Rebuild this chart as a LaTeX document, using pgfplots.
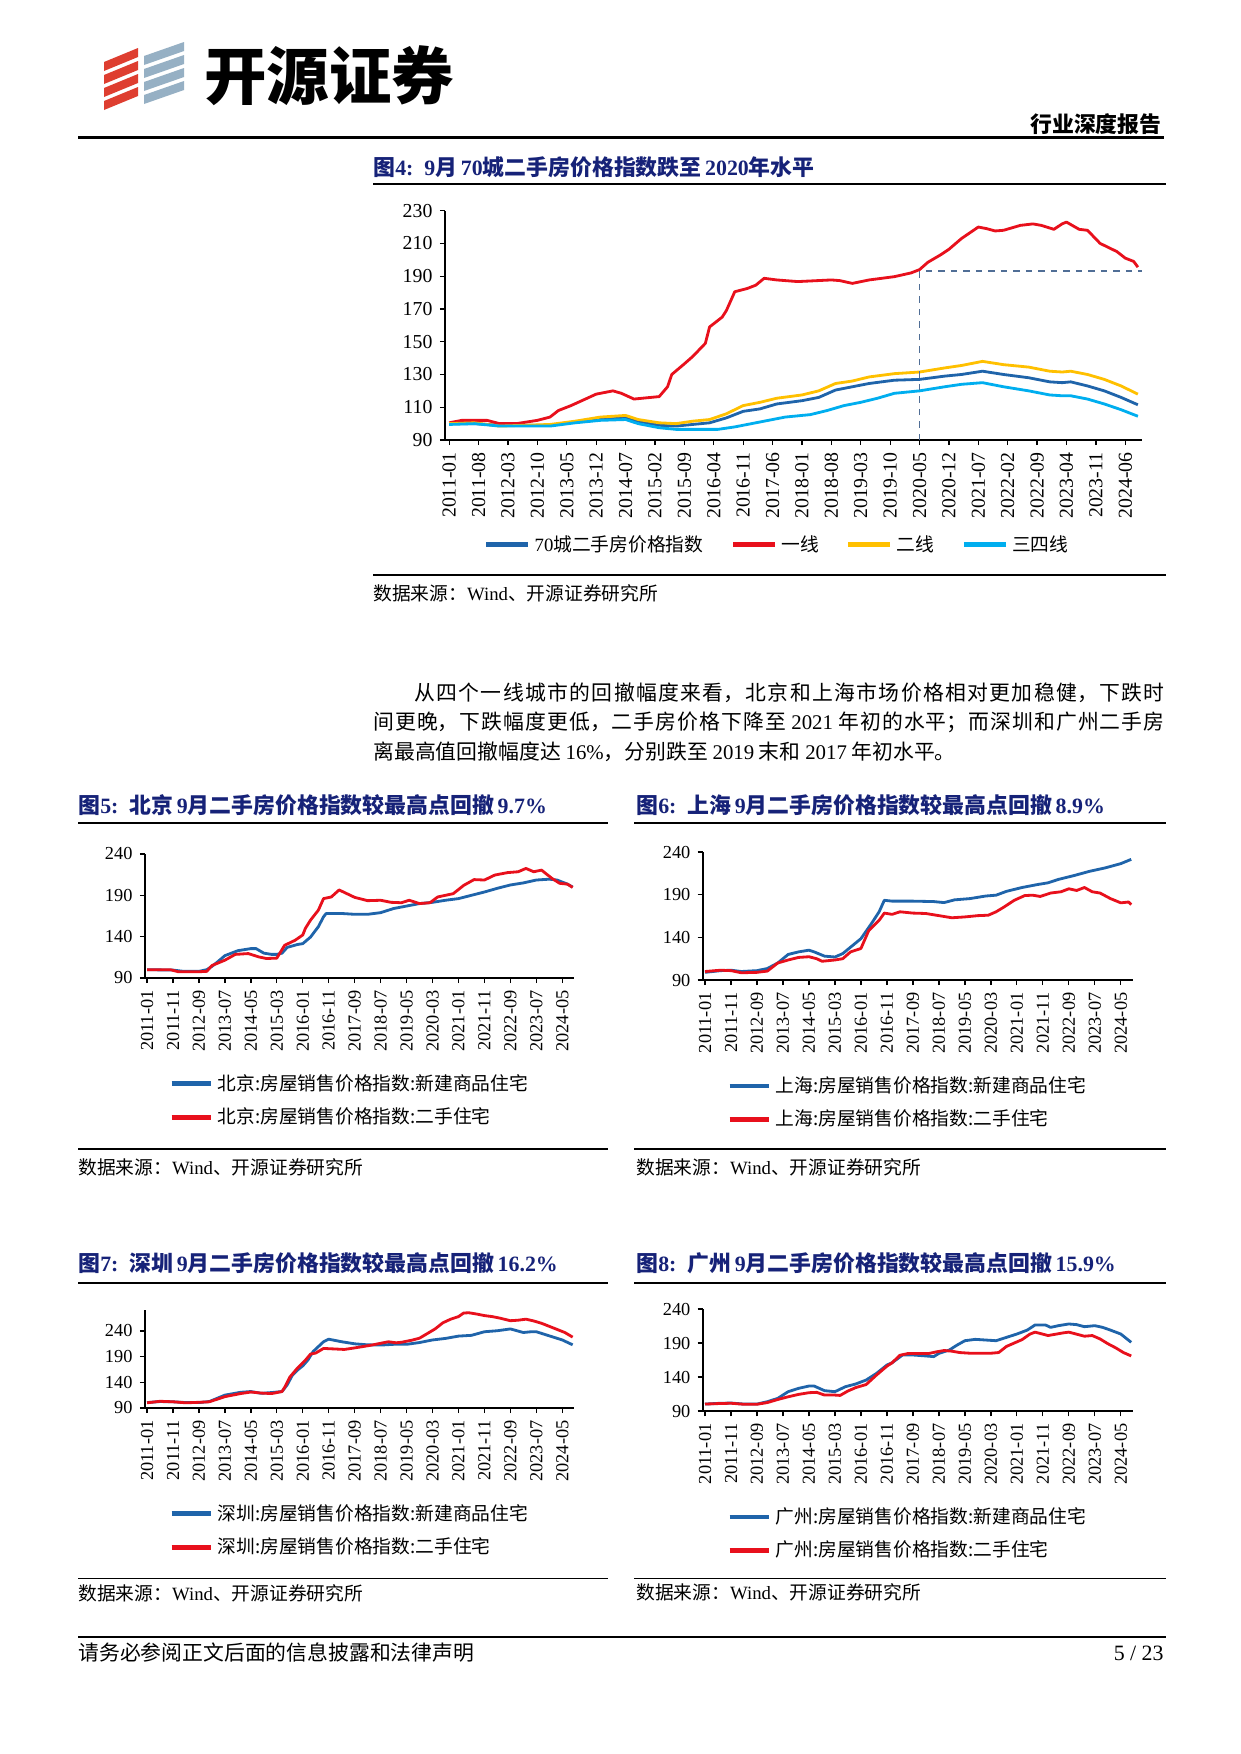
\documentclass[border=0pt]{standalone}
\usepackage{fontspec}
\usepackage{pgfplots}
\pgfplotsset{compat=1.18}
\setmainfont{Liberation Serif}
\newfontfamily\cjk{Noto Sans CJK SC}
\XeTeXlinebreaklocale "zh"
\XeTeXlinebreakskip = 0pt plus 1.5pt
\definecolor{navy}{RGB}{22,34,120}
\definecolor{sblue}{RGB}{31,100,170}
\definecolor{sred}{RGB}{232,16,28}
\definecolor{syellow}{RGB}{255,192,0}
\definecolor{scyan}{RGB}{0,174,239}
\definecolor{dashc}{RGB}{80,110,150}
\definecolor{logored}{RGB}{222,62,48}
\definecolor{logogray}{RGB}{150,176,196}
\newcommand{\C}[1]{{\cjk #1}}
\pgfplotsset{
 pg/.style={
  scale only axis, axis x line=bottom, axis y line=left,
  axis line style={-, black, line width=0.6pt},
  every outer x axis line/.append style={-}, every outer y axis line/.append style={-},
  tick align=outside, major tick length=2.5pt,
  tick style={black, line width=0.6pt},
  /pgf/number format/assume math mode=true,
  xticklabel style={rotate=90, anchor=east},
  legend cell align=left,
  legend style={draw=none, fill=none, inner sep=0pt},
 },
 lw/.style={line width=1.35pt, line join=round},
 small/.style={pg, width=205.9pt, xmin=-0.8, xmax=164.5, ymin=90,
  ytick={90,140,190,240},
  xtick={0,10,...,160},
  xticklabels={2011-01,2011-11,2012-09,2013-07,2014-05,2015-03,2016-01,2016-11,2017-09,2018-07,2019-05,2020-03,2021-01,2021-11,2022-09,2023-07,2024-05},
  ticklabel style={font=\fontsize{8.8}{9}\selectfont},
  legend style={at={(0.056,0)}, anchor=north west, yshift=-44pt, font=\cjk\fontsize{9}{10}\selectfont, row sep=3pt},
  legend image code/.code={\draw[##1,line width=2.2pt] (0pt,0pt)--(19pt,0pt);}
 }
}
\begin{document}
\begin{tikzpicture}
\begin{scope}[x=0.48pt,y=-0.48pt]
\fill[white] (0,0) rectangle (1241,1754);
\path[use as bounding box] (0,0) rectangle (1241,1754);
% logo
\foreach \i in {0,1,2,3}{
 \fill[logored] (104,62+13*\i)--(138,48+13*\i)--(138,57+13*\i)--(104,71+13*\i)--cycle;
 \fill[logogray] (144,56+13*\i)--(184,42+13*\i)--(184,51+13*\i)--(144,65+13*\i)--cycle;
}
\node[anchor=west, inner sep=0pt, font=\cjk\bfseries\fontsize{30}{30}\selectfont] at (204,76) {开源证券};
\node[anchor=east, inner sep=0pt, font=\cjk\bfseries\fontsize{10.5}{11}\selectfont] at (1162,124) {行业深度报告};
\draw[line width=1pt] (78,137.5)--(1164,137.5);
% fig 4 frame
\node[anchor=west, inner sep=0pt, text=navy, font=\bfseries\fontsize{10.5}{11}\selectfont] at (373,167) {\C{图}4:\hspace{0.5em}9\C{月}\,70\C{城二手房价格指数跌至}\,2020\C{年水平}};
\draw[line width=0.5pt] (373,184)--(1166,184);
\draw[line width=0.5pt] (373,575)--(1166,575);
\node[anchor=west, inner sep=0pt, font=\fontsize{9}{10}\selectfont] at (373,593) {\C{数据来源：}Wind\C{、开源证券研究所}};
% paragraph
\node[anchor=north west, inner sep=0pt, text width=379.7pt, align=justify, font=\cjk\fontsize{10}{14.2}\selectfont] at (373,682) {\hspace*{41\dimexpr0.48pt\relax}从四个一线城市的回撤幅度来看，北京和上海市场价格相对更加稳健，下跌时\linebreak 间更晚，下跌幅度更低，二手房价格下降至 {\rmfamily 2021} 年初的水平；而深圳和广州二手房\linebreak 离最高值回撤幅度达 {\rmfamily 16\%}，分别跌至 {\rmfamily 2019} 末和 {\rmfamily 2017} 年初水平。};
% fig 5-8 frames
\node[anchor=west, inner sep=0pt, text=navy, font=\bfseries\fontsize{10.5}{11}\selectfont] at (78,805) {\C{图}5:\hspace{0.5em}\C{北京}\,9\C{月二手房价格指数较最高点回撤}\,9.7\%};
\draw[line width=0.5pt] (78,823)--(608,823);
\draw[line width=0.5pt] (78,1149)--(608,1149);
\node[anchor=west, inner sep=0pt, font=\fontsize{9}{10}\selectfont] at (78,1167) {\C{数据来源：}Wind\C{、开源证券研究所}};
\node[anchor=west, inner sep=0pt, text=navy, font=\bfseries\fontsize{10.5}{11}\selectfont] at (636,805) {\C{图}6:\hspace{0.5em}\C{上海}\,9\C{月二手房价格指数较最高点回撤}\,8.9\%};
\draw[line width=0.5pt] (634,823)--(1166,823);
\draw[line width=0.5pt] (634,1149)--(1166,1149);
\node[anchor=west, inner sep=0pt, font=\fontsize{9}{10}\selectfont] at (636,1167) {\C{数据来源：}Wind\C{、开源证券研究所}};
\node[anchor=west, inner sep=0pt, text=navy, font=\bfseries\fontsize{10.5}{11}\selectfont] at (78,1263) {\C{图}7:\hspace{0.5em}\C{深圳}\,9\C{月二手房价格指数较最高点回撤}\,16.2\%};
\draw[line width=0.5pt] (78,1283)--(608,1283);
\draw[line width=0.5pt] (78,1578)--(608,1578);
\node[anchor=west, inner sep=0pt, font=\fontsize{9}{10}\selectfont] at (78,1593) {\C{数据来源：}Wind\C{、开源证券研究所}};
\node[anchor=west, inner sep=0pt, text=navy, font=\bfseries\fontsize{10.5}{11}\selectfont] at (636,1263) {\C{图}8:\hspace{0.5em}\C{广州}\,9\C{月二手房价格指数较最高点回撤}\,15.9\%};
\draw[line width=0.5pt] (634,1283)--(1166,1283);
\draw[line width=0.5pt] (634,1578)--(1166,1578);
\node[anchor=west, inner sep=0pt, font=\fontsize{9}{10}\selectfont] at (636,1592) {\C{数据来源：}Wind\C{、开源证券研究所}};
% footer
\draw[line width=0.8pt] (78,1637)--(1166,1637);
\node[anchor=west, inner sep=0pt, font=\cjk\fontsize{10}{11}\selectfont] at (78,1653) {请务必参阅正文后面的信息披露和法律声明};
\node[anchor=east, inner sep=0pt, font=\fontsize{10.5}{11}\selectfont] at (1164,1653) {5 / 23};
\end{scope}

% ---------- Fig 4 ----------
\begin{axis}[pg, at={(213.6pt,-211.2pt)}, anchor=south west, width=334.6pt, height=110.1pt,
 xmin=-1, xmax=165, ymin=90, ymax=230, ytick={90,110,...,230},
 xtick={0,7,...,161},
 xticklabels={2011-01,2011-08,2012-03,2012-10,2013-05,2013-12,2014-07,2015-02,2015-09,2016-04,2016-11,2017-06,2018-01,2018-08,2019-03,2019-10,2020-05,2020-12,2021-07,2022-02,2022-09,2023-04,2023-11,2024-06},
 ticklabel style={font=\fontsize{9.5}{10}\selectfont},
 legend columns=4,
 legend style={at={(0.478,-0.457)}, anchor=center, font=\fontsize{9}{10}\selectfont, /tikz/every even column/.append style={column sep=11pt}},
 legend image code/.code={\draw[#1,line width=2.4pt] (0pt,0pt)--(20pt,0pt);}]
\addplot[sblue, lw] coordinates {(0,100)(6,100)(12,99)(18,99)(24,99)(30,101)(36,102.5)(42,103.5)(45,101.5)(50,99)(54,98.5)(58,99.5)(62,100.5)(66,103.5)(70,107.5)(74,109)(78,112)(84,114)(88,116)(92,120.5)(96,122.5)(100,124.5)(106,126.5)(112,127)(118,129)(122,130)(127,132)(132,130)(138,128)(143,125.5)(146,125)(148,125.5)(152,123)(156,120)(160,116)(164,111.5)};
\addlegendentry{{\rmfamily 70}\C{城二手房价格指数}}
\addplot[sred, lw] coordinates {(0,100.5)(3,102)(9,102)(12,100)(16,100)(21,102)(24,104)(26,108)(29,111)(35,118)(39,120)(41,118.5)(44,115)(50,116.5)(52,122.5)(53,130)(56,136.5)(58,141)(61,149)(62,159)(65,165)(66,169)(68,180.5)(71,182.5)(73,184.5)(75,188.7)(78,187.7)(83,186.7)(91,187.7)(93,187.3)(96,185.6)(100,187.7)(106,189.7)(110,192)(112,194)(114,198.5)(117,203)(119,206.4)(122,213)(126,220)(128,219)(130,217.6)(132,218)(136,221)(139,221.9)(141,221)(144,218.6)(146,222)(147,223)(150,218.6)(152,218)(155,210)(159,205)(161,201)(163,199)(164,195.5)};
\addlegendentry{\C{一线}}
\addplot[syellow, lw] coordinates {(0,100)(6,100.5)(12,98.5)(18,99)(24,99.5)(30,101.5)(36,104)(42,105)(45,102.5)(50,100.5)(54,100)(58,101.5)(62,102.5)(66,106)(70,111)(74,113)(78,115.5)(84,117.5)(88,120)(92,124.5)(96,126)(100,128.5)(106,130.5)(112,131.5)(118,134)(122,135.5)(127,138)(132,136)(138,134.5)(143,132)(146,131.5)(148,132)(152,130)(156,127)(160,123)(164,118)};
\addlegendentry{\C{二线}}
\addplot[scyan, lw] coordinates {(0,99.5)(6,100)(12,98.5)(18,98.5)(24,98.5)(30,100.5)(36,102)(42,102.5)(45,100)(50,97.5)(54,96.5)(58,96.5)(64,96.5)(68,98)(72,100)(76,102)(80,104)(86,105.5)(90,108)(94,111)(98,113)(102,115.5)(106,118.5)(112,120)(118,122.5)(122,124)(127,125)(132,122.5)(138,120)(143,117.5)(146,117)(148,117)(152,115)(156,112)(160,108.5)(164,104.5)};
\addlegendentry{\C{三四线}}
\addplot[dashc, dashed, line width=0.8pt, forget plot] coordinates {(112,90)(112,193)(165,193)};
\end{axis}

% ---------- Fig 5 Beijing ----------
\begin{axis}[small, at={(69.6pt,-469.4pt)}, anchor=south west, height=59.5pt, ymax=240]
\addplot[sblue, lw] coordinates {(0,100)(10,99.5)(14,98)(20,98)(23,100)(25,104)(27,109)(30,117)(35,123)(40,125.5)(42,125.5)(45,120)(48,118.5)(50,118.5)(52,120)(54,127)(58,130.5)(60,131.5)(63,139.5)(66,152)(68,164)(69,168)(75,168)(80,167)(85,167)(90,169)(95,174)(100,177)(105,180)(110,181.5)(115,184)(120,186)(125,190)(130,194)(135,198.5)(140,202.5)(145,205)(150,208.5)(155,209.5)(158,208.5)(162,203.5)(164,200)};
\addlegendentry{北京:房屋销售价格指数:新建商品住宅}
\addplot[sred, lw] coordinates {(0,100)(9,100)(12,97.5)(20,97.5)(23,98)(25,105)(30,111.5)(34,118.5)(39,119.5)(43,115.5)(46,113.5)(50,114)(53,129.5)(57,135.5)(60,142)(61,150)(63,160)(66,172)(68,186)(71,188)(74,196.5)(77,192)(80,187.5)(85,183.5)(90,184)(94,181.5)(98,181)(101,184)(105,180)(109,181)(112,188)(118,192)(122,202)(126,209)(130,208.5)(134,214.5)(139,217.5)(143,218.5)(146,222.5)(149,218.5)(152,220.5)(156,210.5)(159,204.5)(162,203.5)(164,199.5)};
\addlegendentry{北京:房屋销售价格指数:二手住宅}
\end{axis}

% ---------- Fig 6 Shanghai ----------
\begin{axis}[small, at={(337.4pt,-470.4pt)}, anchor=south west, width=206.2pt, height=61.4pt, ymax=240]
\addplot[sblue, lw] coordinates {(0,99)(6,101)(10,101.5)(14,100)(20,101)(24,103.5)(28,110)(32,120)(36,123)(40,125)(42,123)(46,118)(50,117)(53,121)(57,131)(60,138.5)(64,156)(67,170)(69,183.5)(72,182.5)(80,182.5)(88,182)(92,180.8)(96,184)(102,185.5)(108,188.5)(112,189.5)(116,194)(122,198.5)(128,202)(132,204)(136,208)(142,212.5)(148,217.5)(154,221.5)(160,226.5)(164,231.5)};
\addlegendentry{上海:房屋销售价格指数:新建商品住宅}
\addplot[sred, lw] coordinates {(0,100)(6,101.5)(10,101)(14,98.5)(20,99)(24,100.5)(28,110)(32,113.5)(36,116.5)(40,117.3)(43,115)(45,112)(50,113.5)(53,115)(56,123)(60,127)(63,148)(67,160)(69,168.5)(72,167)(75,170)(80,168.5)(85,168)(91,165)(95,163)(100,164)(105,165.5)(109,166)(112,170)(115,175.5)(119,183.5)(123,189)(126,189.5)(129,188)(133,192)(137,193.5)(140,197)(143,195)(146,198.5)(149,193.5)(152,192)(156,185.5)(160,180.5)(163,181.5)(164,178.5)};
\addlegendentry{上海:房屋销售价格指数:二手住宅}
\end{axis}

% ---------- Fig 7 Shenzhen ----------
\begin{axis}[small, at={(69.6pt,-675.8pt)}, anchor=south west, height=46.8pt, ymax=280]
\addplot[sblue, lw] coordinates {(0,100.5)(5,102.5)(10,102)(15,100.5)(20,100.5)(24,102.5)(30,115)(36,120.5)(40,122)(44,118.5)(48,120)(52,122)(54,135)(56,154)(58,164)(60,172)(62,183.5)(64,200)(66,209.5)(68,219)(70,224)(75,219)(80,215)(85,213)(90,212.5)(95,214)(100,214)(105,217.5)(110,222.5)(115,225.5)(120,230)(125,231.5)(130,238.5)(135,240.5)(140,244)(145,237)(148,238.5)(150,238.5)(155,230.5)(160,222.5)(164,213)};
\addlegendentry{深圳:房屋销售价格指数:新建商品住宅}
\addplot[sred, lw] coordinates {(0,100)(5,103)(10,102)(15,100)(20,101)(24,102)(30,112)(36,118)(40,121)(44,119)(48,118)(50,120)(52,122)(53,130)(55,150)(58,168)(61,183)(63,195)(65,197)(68,206)(72,205)(76,204)(80,207)(86,212)(90,216)(93,219)(96,217)(98,218)(102,222)(105,226)(108,235)(111,244)(114,256)(117,263)(120,268)(122,275)(124,275.5)(127,273)(130,270)(133,268)(136,265)(140,260)(143,261)(146,263)(149,259.5)(152,255)(155,249)(158,243)(161,237)(164,228)};
\addlegendentry{深圳:房屋销售价格指数:二手住宅}
\end{axis}

% ---------- Fig 8 Guangzhou ----------
\begin{axis}[small, at={(337.4pt,-677.3pt)}, anchor=south west, width=206.2pt, height=49pt, ymax=240]
\addplot[sblue, lw] coordinates {(0,100.3)(5,101.3)(10,101.8)(15,100.3)(20,100.3)(24,103.8)(28,108.7)(32,118.5)(36,123.4)(40,126.8)(42,126.8)(46,120)(50,118.5)(54,125.8)(58,129.8)(62,135.6)(66,145.4)(70,157.7)(72,161)(76,172.4)(80,172.4)(85,171)(88,170)(90,174.8)(94,179.7)(97,187)(100,193.4)(104,195.4)(108,194.4)(112,193.4)(116,198.3)(120,203.2)(124,209)(127,216.5)(131,216.5)(133,213)(136,215.5)(140,218)(143,217)(146,214)(150,215.5)(153,213)(156,209)(160,203.2)(164,191)};
\addlegendentry{广州:房屋销售价格指数:新建商品住宅}
\addplot[sred, lw] coordinates {(0,100.3)(5,101)(10,101.5)(15,100)(20,100)(24,102.5)(28,107)(32,111)(36,114.5)(40,117)(43,117.5)(46,113.5)(50,113.5)(52,113)(55,119.5)(58,124.5)(62,129)(66,143)(70,156)(72,161)(75,172)(78,174.5)(82,174.5)(86,174.5)(89,177)(92,179)(95,178)(98,176)(102,175)(106,175)(110,175)(113,176)(116,185)(119,190)(122,195)(125,203)(127,206)(130,203)(132,201)(135,203)(138,205)(140,206)(143,203)(146,200)(149,201)(152,196)(155,189)(158,183)(161,176)(164,171)};
\addlegendentry{广州:房屋销售价格指数:二手住宅}
\end{axis}
\end{tikzpicture}
\end{document}
